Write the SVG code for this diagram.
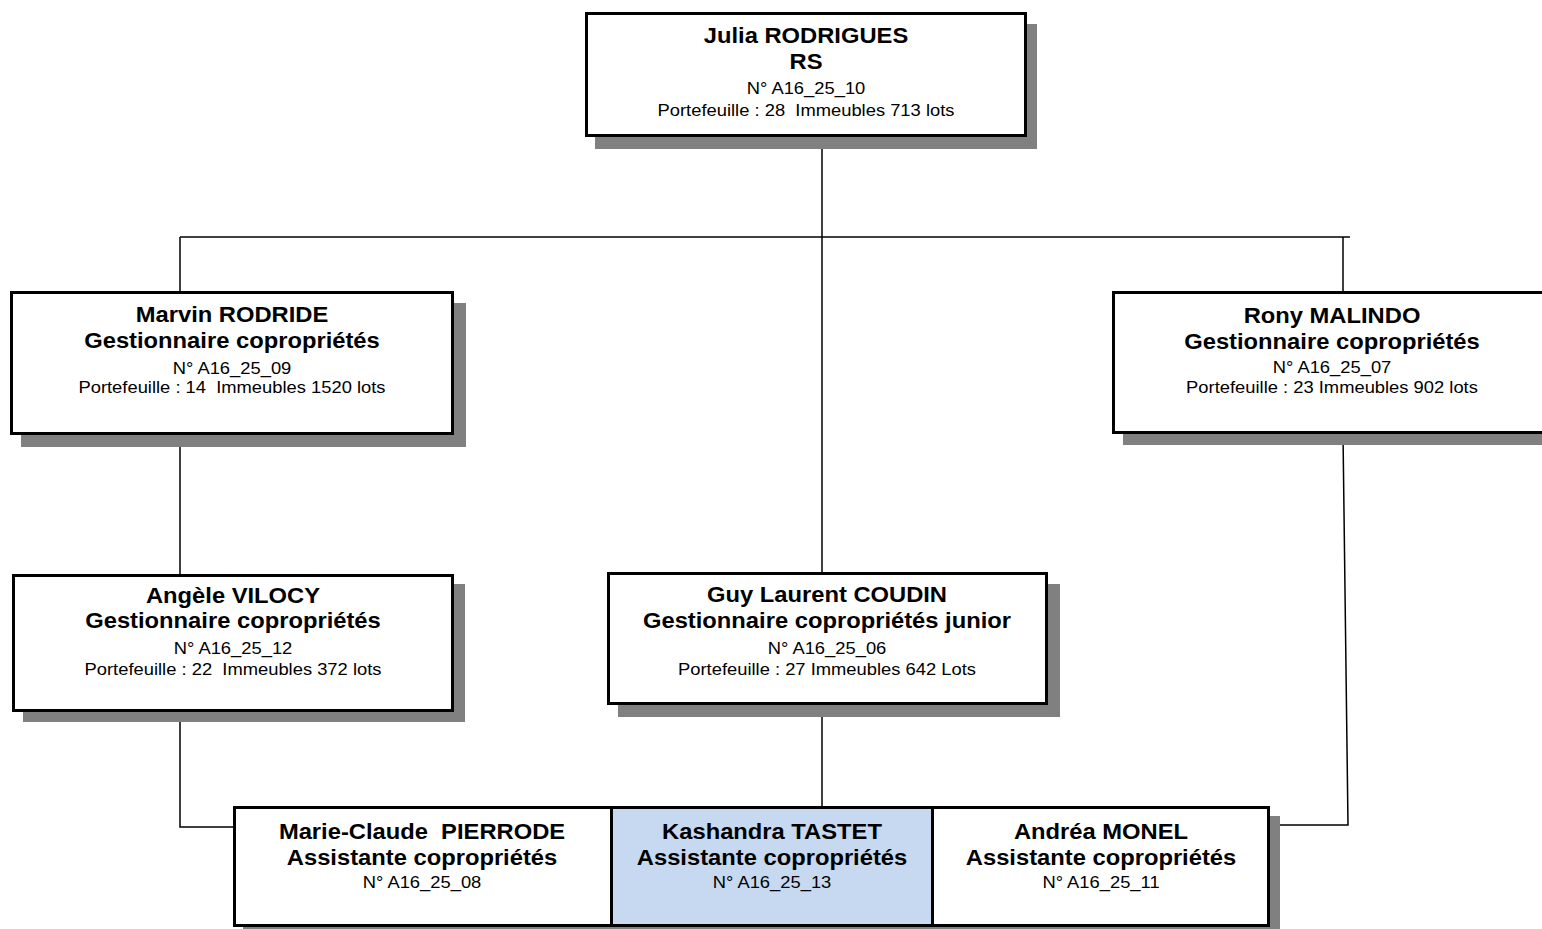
<svg xmlns="http://www.w3.org/2000/svg" width="1542" height="929" viewBox="0 0 1542 929">
<style>
.bg{fill:#ffffff}
.sh{fill:#808080}
.box{fill:#ffffff;stroke:#000000;stroke-width:3}
.hl{fill:#c6d9f0;stroke:#000000;stroke-width:3}
.ln{fill:none;stroke:#000000;stroke-width:1.5}
.b{font-family:"Liberation Sans",Arial,sans-serif;font-weight:bold;font-size:22px;text-anchor:middle;fill:#000;white-space:pre}
.r{font-family:"Liberation Sans",Arial,sans-serif;font-size:17px;text-anchor:middle;fill:#000;white-space:pre}
</style>
<rect class="bg" x="0" y="0" width="1542" height="929"/>
<g id="connectors">
<path class="ln" d="M822,137 V574"/>
<path class="ln" d="M180,237 H1350"/>
<path class="ln" d="M180,237 V292"/>
<path class="ln" d="M1343,237 V292"/>
<path class="ln" d="M180,435 V575"/>
<path class="ln" d="M180,712 V827 H234"/>
<path class="ln" d="M822,705 V807"/>
<path class="ln" d="M1343,434 L1348,825 H1270"/>
</g>
<g id="julia">
<rect class="sh" x="595" y="24" width="442" height="125"/>
<rect class="box" x="586.5" y="13.5" width="439" height="122"/>
<g transform="translate(806,0) scale(1.08,1)">
<text class="b" x="0" y="43">Julia RODRIGUES</text>
<text class="b" x="0" y="69">RS</text>
<text class="r" x="0" y="94">N° A16_25_10</text>
<text class="r" x="0" y="116" xml:space="preserve">Portefeuille : 28  Immeubles 713 lots</text>
</g>
</g>
<g id="marvin">
<rect class="sh" x="21" y="303" width="445" height="144"/>
<rect class="box" x="11.5" y="292.5" width="441" height="141"/>
<g transform="translate(232,0) scale(1.08,1)">
<text class="b" x="0" y="322">Marvin RODRIDE</text>
<text class="b" x="0" y="348">Gestionnaire copropriétés</text>
<text class="r" x="0" y="374">N° A16_25_09</text>
<text class="r" x="0" y="393" xml:space="preserve">Portefeuille : 14  Immeubles 1520 lots</text>
</g>
</g>
<g id="rony">
<rect class="sh" x="1123" y="302" width="440" height="143"/>
<rect class="box" x="1113.5" y="292.5" width="437" height="140"/>
<g transform="translate(1332,0) scale(1.08,1)">
<text class="b" x="0" y="323">Rony MALINDO</text>
<text class="b" x="0" y="349">Gestionnaire copropriétés</text>
<text class="r" x="0" y="373">N° A16_25_07</text>
<text class="r" x="0" y="393">Portefeuille : 23 Immeubles 902 lots</text>
</g>
</g>
<g id="angele">
<rect class="sh" x="23" y="584" width="442" height="138"/>
<rect class="box" x="13.5" y="575.5" width="439" height="135"/>
<g transform="translate(233,0) scale(1.08,1)">
<text class="b" x="0" y="603">Angèle VILOCY</text>
<text class="b" x="0" y="628">Gestionnaire copropriétés</text>
<text class="r" x="0" y="654">N° A16_25_12</text>
<text class="r" x="0" y="675" xml:space="preserve">Portefeuille : 22  Immeubles 372 lots</text>
</g>
</g>
<g id="guy">
<rect class="sh" x="618" y="584" width="442" height="133"/>
<rect class="box" x="608.5" y="573.5" width="438" height="130"/>
<g transform="translate(827,0) scale(1.08,1)">
<text class="b" x="0" y="602">Guy Laurent COUDIN</text>
<text class="b" x="0" y="628">Gestionnaire copropriétés junior</text>
<text class="r" x="0" y="654">N° A16_25_06</text>
<text class="r" x="0" y="675">Portefeuille : 27 Immeubles 642 Lots</text>
</g>
</g>
<rect class="sh" x="243" y="816" width="1037" height="125"/>
<g id="marie">
<rect class="box" x="234.5" y="807.5" width="377" height="118"/>
<g transform="translate(422,0) scale(1.08,1)">
<text class="b" x="0" y="839" xml:space="preserve">Marie-Claude  PIERRODE</text>
<text class="b" x="0" y="865">Assistante copropriétés</text>
<text class="r" x="0" y="888">N° A16_25_08</text>
</g>
</g>
<g id="kashandra">
<rect class="hl" x="611.5" y="807.5" width="321" height="118"/>
<g transform="translate(772,0) scale(1.08,1)">
<text class="b" x="0" y="839">Kashandra TASTET</text>
<text class="b" x="0" y="865">Assistante copropriétés</text>
<text class="r" x="0" y="888">N° A16_25_13</text>
</g>
</g>
<g id="andrea">
<rect class="box" x="932.5" y="807.5" width="336" height="118"/>
<g transform="translate(1101,0) scale(1.08,1)">
<text class="b" x="0" y="839">Andréa MONEL</text>
<text class="b" x="0" y="865">Assistante copropriétés</text>
<text class="r" x="0" y="888">N° A16_25_11</text>
</g>
</g>
</svg>
